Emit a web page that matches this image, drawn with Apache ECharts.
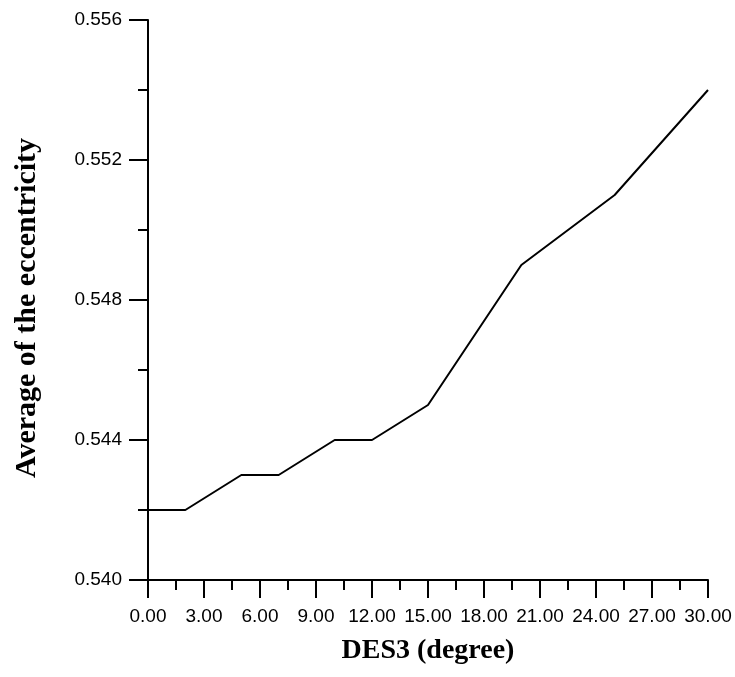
<!DOCTYPE html>
<html>
<head>
<meta charset="utf-8">
<script src="https://cdn.jsdelivr.net/npm/echarts@6/dist/echarts.min.js"></script>
<style>
html,body{margin:0;padding:0;background:#fff;}
#chart{width:735px;height:677px;}
</style>
</head>
<body>
<div id="chart"></div>
<script>
// Data
var xValues = [0, 2, 5, 7, 10, 12, 15, 20, 25, 30];
var yValues = [0.542, 0.542, 0.543, 0.543, 0.544, 0.544, 0.545, 0.549, 0.551, 0.554];
var xAxisTitle = 'DES3 (degree)';
var yAxisTitle = 'Average of the eccentricity';

var seriesData = xValues.map(function (x, i) { return [x, yValues[i]]; });

var chart = echarts.init(document.getElementById('chart'), null, {renderer: 'canvas'});
chart.setOption({
  animation: false,
  backgroundColor: '#fff',
  grid: {left: 148, right: 27, top: 20, bottom: 97, containLabel: false},
  graphic: [{
    type: 'text', x: 27, y: 308, rotation: Math.PI / 2,
    style: {text: yAxisTitle, fill: '#000', align: 'center', verticalAlign: 'middle',
      font: 'bold 30px "Liberation Serif"'}
  }],
  xAxis: {
    type: 'value', min: 0, max: 30, interval: 3,
    name: xAxisTitle, nameLocation: 'middle', nameGap: 57,
    nameTextStyle: {fontFamily: 'Liberation Serif', fontWeight: 'bold', fontSize: 28, color: '#000'},
    axisLine: {lineStyle: {color: '#000', width: 2}},
    axisTick: {show: true, inside: false, length: 18, lineStyle: {color: '#000', width: 2}},
    minorTick: {show: true, splitNumber: 2, length: 10, lineStyle: {color: '#000', width: 2}},
    axisLabel: {margin: 27, fontFamily: 'Liberation Sans', fontSize: 19, color: '#000',
      formatter: function (v) { return v.toFixed(2); }},
    splitLine: {show: false}, minorSplitLine: {show: false}
  },
  yAxis: {
    type: 'value', min: 0.540, max: 0.556, interval: 0.004,
    axisLine: {lineStyle: {color: '#000', width: 2}},
    axisTick: {show: true, inside: false, length: 19, lineStyle: {color: '#000', width: 2}},
    minorTick: {show: true, splitNumber: 2, length: 10, lineStyle: {color: '#000', width: 2}},
    axisLabel: {margin: 26, fontFamily: 'Liberation Sans', fontSize: 19, color: '#000',
      formatter: function (v) { return v.toFixed(3); }},
    splitLine: {show: false}, minorSplitLine: {show: false}
  },
  series: [{
    type: 'line', data: seriesData, showSymbol: false, symbol: 'none',
    lineStyle: {color: '#000', width: 2}
  }]
});
</script>
</body>
</html>
